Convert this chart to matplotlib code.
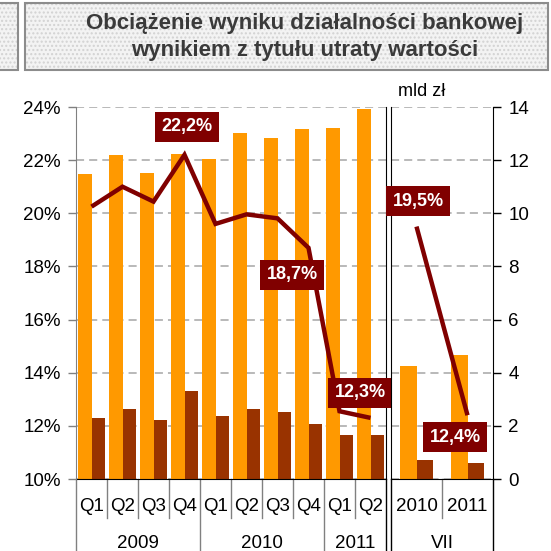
import matplotlib
matplotlib.use('Agg')
import matplotlib.pyplot as plt
from matplotlib.patches import Rectangle

plt.rcParams['font.family'] = ['Liberation Sans', 'DejaVu Sans']

# quarterly data, mld zł (bars) and share in % (line)
quarters = ['Q1', 'Q2', 'Q3', 'Q4', 'Q1', 'Q2', 'Q3', 'Q4', 'Q1', 'Q2']
years = ['2009', '2010', '2011']
year_spans = [(0, 4), (4, 8), (8, 10)]
banking_result = [11.48, 12.19, 11.52, 12.23, 12.04, 13.02, 12.83, 13.17, 13.21, 13.93]
impairment = [2.30, 2.63, 2.22, 3.31, 2.37, 2.63, 2.52, 2.07, 1.66, 1.66]
share = [20.25, 21.0, 20.44, 22.2, 19.6, 19.96, 19.81, 18.7, 12.55, 12.3]

# January-July comparison
vii_labels = ['2010', '2011']
vii_group = 'VII'
vii_banking = [4.25, 4.67]
vii_impairment = [0.71, 0.60]
vii_share = [19.5, 12.4]

title = 'Obciążenie wyniku działalności bankowej\nwynikiem z tytułu utraty wartości'

ORANGE = '#FF9900'
BROWN = '#993300'
MAROON = '#800000'
GRIDC = '#a6a6a6'

W = H = 551
fig = plt.figure(figsize=(5.51, 5.51), dpi=100)

# title box
for x0, w in [(25 / W, 523 / W), (-0.01, 18 / W + 0.01)]:
    fig.patches.append(Rectangle((x0, 1 - 70 / H), w, 67 / H, transform=fig.transFigure,
                                 fc='#f3f3f3', ec='#d2d2d2', hatch='....', lw=0, zorder=0))
    fig.patches.append(Rectangle((x0, 1 - 70 / H), w, 67 / H, transform=fig.transFigure,
                                 fill=False, ec='#8c8c8c', lw=1.5, zorder=1))
fig.text(305 / W, 1 - 37 / H, title, ha='center', va='center', fontsize=16,
         fontweight='bold', color='#3a3a3a', linespacing=1.42)
fig.text(422 / W, 1 - 92 / H, 'mld zł', ha='center', va='center', fontsize=13)

ax1 = fig.add_axes([76 / W, 72 / H, 310 / W, 372 / H])
ax2 = fig.add_axes([391 / W, 72 / H, 102 / W, 372 / H])


def setup(ax, n):
    ax.set_xlim(-0.5, n - 0.5)
    ax.set_ylim(0, 14)
    ax.set_yticks(range(0, 15, 2))
    ax.set_xticks([])
    ax.set_axisbelow(True)
    ax.yaxis.grid(True, linestyle=(0, (5.3, 3.3)), color=GRIDC, linewidth=1.1)
    for s in ['top', 'left', 'right']:
        ax.spines[s].set_visible(False)
    ax.spines['bottom'].set_color('black')
    ax.patch.set_visible(False)
    t = ax.twinx()
    t.set_ylim(10, 24)
    t.set_xlim(-0.5, n - 0.5)
    for s in ['top', 'bottom']:
        t.spines[s].set_visible(False)
    return t


# quarterly section
x1 = list(range(len(quarters)))
ax1t = setup(ax1, len(quarters))
ax1.bar([x - 0.45 for x in x1], banking_result, width=0.45, align='edge', color=ORANGE)
ax1.bar(x1, impairment, width=0.42, align='edge', color=BROWN)
ax1.tick_params(left=False, labelleft=False, right=False, labelright=False)
ax1t.yaxis.tick_left()
ax1t.set_yticks(range(10, 25, 2))
ax1t.set_yticklabels([f'{v}%' for v in range(10, 25, 2)])
ax1t.tick_params(axis='y', length=6, width=1, color='#808080', pad=5, labelsize=13.5)
ax1t.spines['left'].set_color('#808080')
ax1t.spines['right'].set_color('black')
ax1t.plot(x1, share, color=MAROON, lw=3.2, solid_joinstyle='miter', solid_capstyle='butt')

# VII section
x2 = list(range(len(vii_labels)))
ax2t = setup(ax2, len(vii_labels))
ax2.bar([x - 0.33 for x in x2], vii_banking, width=0.33, align='edge', color=ORANGE)
ax2.bar(x2, vii_impairment, width=0.33, align='edge', color=BROWN)
ax2.yaxis.tick_right()
ax2.tick_params(axis='y', length=6, width=1, color='black', pad=5, labelsize=13.5,
                left=False, labelleft=False)
ax2t.tick_params(right=False, labelright=False, left=False, labelleft=False)
ax2t.spines['left'].set_color('black')
ax2t.spines['right'].set_color('black')
ax2t.plot(x2, vii_share, color=MAROON, lw=3.2, solid_capstyle='butt')


def fmt(v):
    return f'{v:.1f}%'.replace('.', ',')


box = dict(boxstyle='square,pad=0.38', fc=MAROON, ec='none')
for i, dx, dy in [(3, 0.08, 1.05), (7, -0.53, -1.02), (9, -0.34, 0.94)]:
    ax1t.text(x1[i] + dx, share[i] + dy, fmt(share[i]), ha='center', va='center',
              color='white', fontsize=13, fontweight='bold', bbox=box,
              clip_on=False, zorder=10)
for i, dx, dy in [(0, 0.03, 0.96), (1, -0.245, -0.82)]:
    ax2t.text(x2[i] + dx, vii_share[i] + dy, fmt(vii_share[i]), ha='center', va='center',
              color='white', fontsize=13, fontweight='bold', bbox=box,
              clip_on=False, zorder=10)

# category table under the axes
ys, yl = -0.105, -0.20
tr1 = ax1.get_xaxis_transform()
for k in range(len(quarters) + 1):
    full = k in (0, 4, 8, 10)
    col = 'black' if k == len(quarters) else '#808080'
    ax1.plot([k - 0.5, k - 0.5], [0, yl if full else ys], transform=tr1, color=col,
             lw=1, clip_on=False)
for x, q in zip(x1, quarters):
    ax1.text(x, -0.075, q, transform=tr1, ha='center', va='center', fontsize=13.5)
for (a, b), y in zip(year_spans, years):
    ax1.text((a + b - 1) / 2, -0.174, y, transform=tr1, ha='center', va='center', fontsize=13.5)

tr2 = ax2.get_xaxis_transform()
for k, full in [(0, True), (1, False), (2, True)]:
    col = '#808080' if not full else 'black'
    ax2.plot([k - 0.5, k - 0.5], [0, yl if full else ys], transform=tr2, color=col,
             lw=1, clip_on=False)
for x, lab in zip(x2, vii_labels):
    ax2.text(x, -0.075, lab, transform=tr2, ha='center', va='center', fontsize=13.5)
ax2.text(0.5, -0.174, vii_group, transform=tr2, ha='center', va='center', fontsize=13.5)

fig.savefig('out.png', dpi=100)
